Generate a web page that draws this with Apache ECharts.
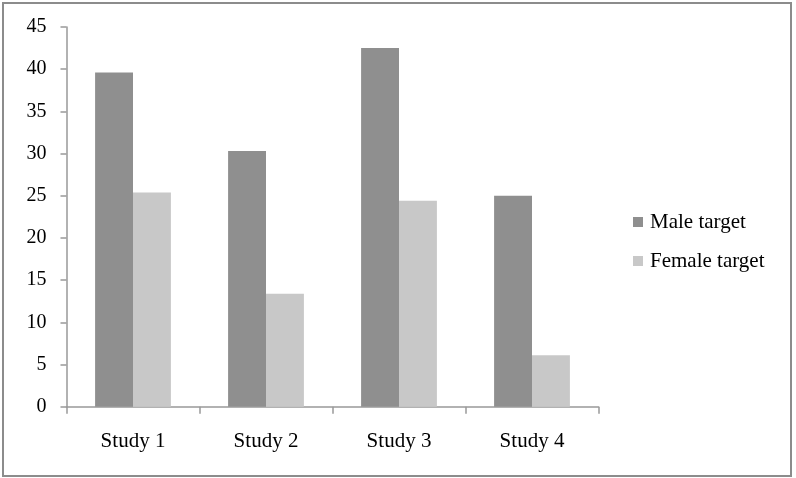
<!DOCTYPE html>
<html>
<head>
<meta charset="utf-8">
<script src="https://cdn.jsdelivr.net/npm/echarts@6/dist/echarts.min.js"></script>
<style>
html,body{margin:0;padding:0;background:#fff;}
#chart{width:796px;height:478px;}
</style>
</head>
<body>
<div id="chart"></div>
<script>
const categories = ['Study 1', 'Study 2', 'Study 3', 'Study 4'];
const maleTarget = [39.6, 30.3, 42.5, 25.0];
const femaleTarget = [25.4, 13.4, 24.4, 6.1];
const seriesNames = ['Male target', 'Female target'];

const chart = echarts.init(document.getElementById('chart'), null, {renderer: 'canvas'});
const fontFamily = '"Liberation Serif", "Times New Roman", serif';
chart.setOption({
  animation: false,
  backgroundColor: '#fff',
  graphic: [{
    type: 'rect',
    shape: {x: 3, y: 3, width: 788, height: 473},
    style: {fill: 'none', stroke: '#8c8c8c', lineWidth: 2},
    silent: true
  }],
  grid: {left: 66.5, right: 197.5, top: 27, bottom: 71.3, containLabel: false},
  legend: {
    orient: 'vertical',
    left: 633,
    top: 211.5,
    padding: 0,
    itemWidth: 10,
    itemHeight: 10,
    itemGap: 18,
    itemStyle: {borderWidth: 0},
    icon: 'rect',
    textStyle: {fontFamily: fontFamily, fontSize: 21, color: '#000', padding: [0,0,0,2]},
    data: seriesNames
  },
  xAxis: {
    type: 'category',
    data: categories,
    axisLine: {lineStyle: {color: '#999', width: 1.5}},
    axisTick: {show: true, length: 7, lineStyle: {color: '#999', width: 1.5}},
    axisLabel: {fontFamily: fontFamily, fontSize: 21, color: '#000', margin: 24}
  },
  yAxis: {
    type: 'value',
    min: 0, max: 45, interval: 5,
    splitLine: {show: false},
    axisLine: {show: true, lineStyle: {color: '#999', width: 1.5}},
    axisTick: {show: true, length: 6, lineStyle: {color: '#999', width: 1.5}},
    axisLabel: {fontFamily: fontFamily, fontSize: 20, color: '#000', margin: 20}
  },
  series: [
    {name: seriesNames[0], type: 'bar', data: maleTarget, barGap: '0%', barCategoryGap: '43%',
     itemStyle: {color: '#8f8f8f'}},
    {name: seriesNames[1], type: 'bar', data: femaleTarget, barGap: '0%', barCategoryGap: '43%',
     itemStyle: {color: '#c8c8c8'}}
  ]
});
</script>
</body>
</html>
